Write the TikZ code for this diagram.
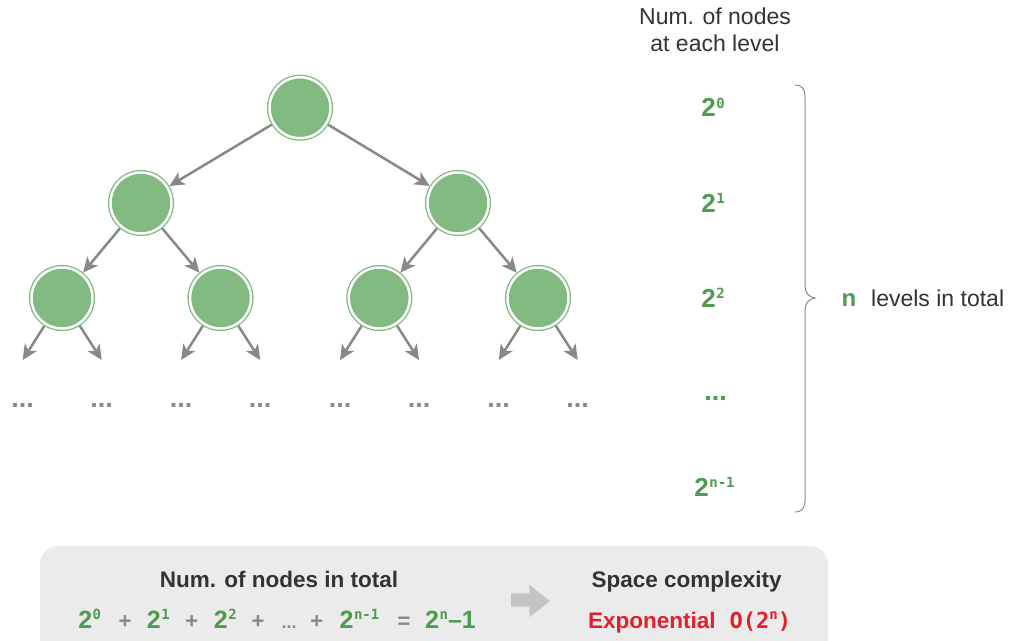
\documentclass[tikz,border=0pt]{standalone}
\usepackage{fontspec}
\setmainfont{Liberation Sans}
\newfontfamily\supmono{DejaVu Sans Mono}
\usetikzlibrary{arrows.meta}

\definecolor{nodefill}{HTML}{82BA82}
\definecolor{ringgreen}{HTML}{7DBB7D}
\definecolor{txtgreen}{HTML}{4E9A4E}
\definecolor{edgegray}{HTML}{888888}
\definecolor{boxgray}{HTML}{EBEBEB}
\definecolor{darktext}{HTML}{333333}
\definecolor{cred}{HTML}{E3202A}
\definecolor{arrowgray}{HTML}{C4C4C4}

\newcommand{\powtwo}[1]{{\fontsize{26}{26}\selectfont\bfseries 2}\hspace{0.5pt}\raisebox{8.5pt}{\fontsize{14}{14}\selectfont\supmono\bfseries #1}}
\newcommand{\powtwob}[1]{{\fontsize{25}{25}\selectfont\bfseries 2}\hspace{0.5pt}\raisebox{8.5pt}{\fontsize{14}{14}\selectfont\supmono\bfseries #1}}

\begin{document}
\begin{tikzpicture}[x=1pt,y=-1pt,
  treenode/.style={circle, draw=ringgreen, fill=nodefill, double=white, double distance=2.5pt, line width=1.3pt, minimum size=61pt, inner sep=0pt, outer sep=2.5pt},
  edge/.style={draw=edgegray, line width=2.5pt, -{Stealth[length=15pt,width=14pt,inset=4pt]}},
  dotstyle/.style={inner sep=0pt, text=edgegray, font=\fontsize{27}{27}\selectfont\bfseries},
  plain/.style={inner sep=0pt, text=darktext, font=\fontsize{23}{23}\selectfont},
  boldtxt/.style={inner sep=0pt, text=darktext, font=\fontsize{22.5}{22.5}\selectfont\bfseries},
  green/.style={inner sep=0pt, text=txtgreen},
  opgray/.style={inner sep=0pt, text=edgegray, font=\fontsize{22}{22}\selectfont\bfseries}
]
\useasboundingbox (0,0) rectangle (1012,640);

% bottom panel
\begin{scope}
\clip (0,0) rectangle (1012,640);
\fill[boxgray, rounded corners=18pt] (40,546) rectangle (828,680);
\end{scope}

% tree
\node[treenode] (r) at (300,107.7) {};
\node[treenode] (a) at (141,203) {};
\node[treenode] (b) at (458,203) {};
\node[treenode] (a1) at (62,298) {};
\node[treenode] (a2) at (220.5,298) {};
\node[treenode] (b1) at (379.3,298) {};
\node[treenode] (b2) at (538,298) {};
\draw[edge] (r) -- (a);
\draw[edge] (r) -- (b);
\draw[edge] (a) -- (a1);
\draw[edge] (a) -- (a2);
\draw[edge] (b) -- (b1);
\draw[edge] (b) -- (b2);
\foreach \n/\x in {a1/62,a2/220.5,b1/379.3,b2/538}{
  \coordinate (\n-l) at (\x-39.3,360);
  \coordinate (\n-r) at (\x+39.7,360);
  \draw[edge] (\n) -- (\n-l);
  \draw[edge] (\n) -- (\n-r);
  \node[dotstyle] (\n-dl) at (\x-39.3,405) {...};
  \node[dotstyle] (\n-dr) at (\x+39.7,405) {...};
}

% right column
\node[plain, anchor=base] (h1) at (715,24) {Num. of nodes};
\node[plain, anchor=base] (h2) at (715,51.7) {at each level};
\node[green] (l0) at (713,107.5) {\powtwo{0}};
\node[green] (l1) at (713,203) {\powtwo{1}};
\node[green] (l2) at (713,298) {\powtwo{2}};
\node[green, font=\fontsize{27}{27}\selectfont\bfseries] (l3) at (715.5,398) {...};
\node[green] (l4) at (714.5,487) {\powtwo{n-1}};

% brace
\draw[edgegray, line width=1pt] (795,85) .. controls (802,85) and (805,89) .. (805,97)
  -- (805,286) .. controls (805,293) and (809,297) .. (815,298)
  .. controls (809,299) and (805,303) .. (805,310)
  -- (805,500) .. controls (805,508) and (802,512) .. (795,512);
\node[green, anchor=base, font=\fontsize{24}{24}\selectfont\bfseries] (n) at (849,306) {n};
\node[plain, anchor=base west] (lv) at (871,306) {levels in total};

% bottom texts
\node[boldtxt, anchor=base] (t1) at (279,587) {Num. of nodes in total};
\node[boldtxt, anchor=base] (t2) at (686.7,587) {Space complexity};
\node[green, anchor=base] (f1) at (89.7,628.3) {\powtwob{0}};
\node[opgray, anchor=base] (f2) at (125,628.3) {+};
\node[green, anchor=base] (f3) at (158.3,628.3) {\powtwob{1}};
\node[opgray, anchor=base] (f4) at (191.7,628.3) {+};
\node[green, anchor=base] (f5) at (225.3,628.3) {\powtwob{2}};
\node[opgray, anchor=base] (f6) at (258,628.3) {+};
\node[opgray, anchor=base, font=\fontsize{18}{18}\selectfont\bfseries] (f7) at (289,628.3) {...};
\node[opgray, anchor=base] (f8) at (316.7,628.3) {+};
\node[green, anchor=base] (f9) at (359.5,628.3) {\powtwob{n-1}};
\node[opgray, anchor=base] (f10) at (404,628.3) {=};
\node[green, anchor=base] (f11) at (450.5,628.3) {\powtwob{n}{\fontsize{25}{25}\selectfont\bfseries –1}};

% block arrow
\fill[arrowgray] (511,593.3) -- (529.3,593.3) -- (529.3,585) -- (550,601) -- (529.3,617.3) -- (529.3,606.7) -- (511,606.7) -- cycle;

\node[inner sep=0pt, text=cred, anchor=base west, font=\fontsize{22.5}{22.5}\selectfont\bfseries] (ex) at (588,628.3)
  {Exponential\hspace{14pt}{\supmono\fontsize{22}{22}\selectfont O(2\raisebox{8.5pt}{\fontsize{14}{14}\selectfont n})}};
\end{tikzpicture}
\end{document}
